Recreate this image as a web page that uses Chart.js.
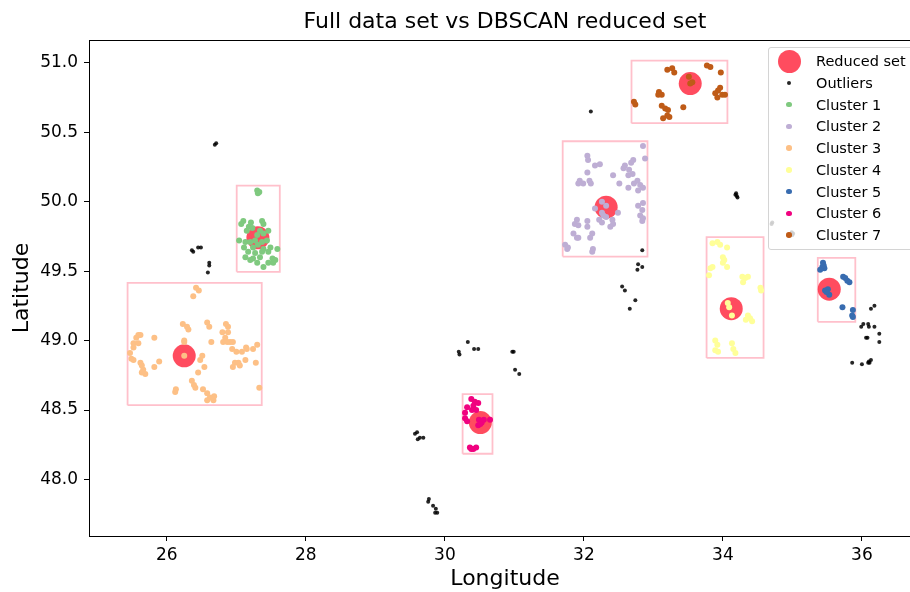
<!DOCTYPE html>
<html lang="en">
<head>
<meta charset="UTF-8">
<title>Full data set vs DBSCAN reduced set</title>
<script src="https://cdn.jsdelivr.net/npm/chart.js@4"></script>
<style>
    body { margin: 0; background: #fff; overflow: hidden; }
    .wrap { position: relative; width: 910px; height: 592px; overflow: hidden; }
    #legend {
        position: absolute; left: 768px; top: 47px; width: 150px; height: 201px;
        border: 1px solid #d4d4d4; border-radius: 3px; background: rgba(255,255,255,0.8);
        font-family: 'DejaVu Sans'; font-size: 14.5px; color: #000;
    }
    .mark { position: absolute; border-radius: 50%; }
    .label { position: absolute; left: 47px; height: 22px; line-height: 22px; white-space: nowrap; }
</style>
</head>
<body>
<div class="wrap">
    <!-- the figure is a little wider than the window: its right spine falls just outside -->
    <canvas id="scatter" width="925" height="592"></canvas>
    <div id="legend"></div>
</div>
<script>
// axis ticks
const xTicks = [26, 28, 30, 32, 34, 36];
const yTicks = [48.0, 48.5, 49.0, 49.5, 50.0, 50.5, 51.0];

// reduced set (one representative per cluster)
const reducedLon = [27.31, 32.32, 26.25, 34.12, 35.53, 30.51, 33.53];
const reducedLat = [49.74, 49.96, 48.89, 49.23, 49.37, 48.41, 50.85];

// DBSCAN noise points
const outLon = [26.69, 26.71, 26.36, 26.38, 26.45, 26.49, 26.61, 26.61, 26.59,
    30.20, 30.21, 30.33, 30.42, 30.48, 30.97, 30.99, 31.01, 31.07,
    29.57, 29.60, 29.64, 29.69, 29.61, 29.76, 29.77, 29.83, 29.87, 29.89, 29.86,
    32.10, 32.84, 32.78, 32.84, 32.77, 32.55, 32.59, 32.74, 32.66,
    34.18, 34.20, 34.19, 34.21, 34.71, 34.70, 35.00, 35.01, 34.99,
    36.13, 36.18, 35.99, 36.02, 36.09, 36.10, 36.18, 36.06, 36.08, 36.25, 36.25,
    35.86, 36.00, 36.09, 36.10, 36.13, 36.11];
const outLat = [50.41, 50.42, 49.65, 49.64, 49.67, 49.67, 49.56, 49.54, 49.49,
    48.92, 48.90, 48.99, 48.94, 48.94, 48.92, 48.92, 48.79, 48.76,
    48.33, 48.34, 48.30, 48.30, 48.29, 47.84, 47.86, 47.81, 47.79, 47.76, 47.76,
    50.65, 49.65, 49.55, 49.53, 49.51, 49.39, 49.36, 49.29, 49.23,
    50.05, 50.04, 50.06, 50.03, 49.85, 49.84, 49.76, 49.77, 49.78,
    49.23, 49.25, 49.10, 49.12, 49.12, 49.10, 49.10, 49.02, 49.02, 49.05, 48.99,
    48.84, 48.83, 48.84, 48.85, 48.86, 48.84];

const c1Lon = [27.30, 27.33, 27.31, 27.10, 27.07, 27.21, 27.37, 27.39, 27.18, 27.15, 27.23, 27.46, 27.34,
    27.30, 27.39, 27.13, 27.20, 27.27, 27.37, 27.44, 27.11, 27.24, 27.31, 27.39, 27.49, 27.59, 27.17,
    27.27, 27.37, 27.46, 27.13, 27.24, 27.34, 27.52, 27.56, 27.30, 27.39, 27.46, 27.53, 27.20, 27.04];
const c1Lat = [50.08, 50.07, 50.06, 49.86, 49.84, 49.85, 49.86, 49.84, 49.82, 49.79, 49.81, 49.79, 49.79,
    49.76, 49.77, 49.71, 49.71, 49.72, 49.71, 49.72, 49.67, 49.67, 49.69, 49.66, 49.67, 49.66, 49.64,
    49.63, 49.64, 49.64, 49.60, 49.59, 49.60, 49.59, 49.58, 49.56, 49.53, 49.56, 49.56, 49.58, 49.72];

const c2Lon = [32.85, 32.05, 32.06, 32.16, 32.23, 32.71, 32.68, 32.59, 32.88, 32.65, 32.57, 32.70, 32.05,
    32.42, 32.64, 31.94, 31.99, 32.08, 32.10, 31.92, 32.51, 32.77, 32.72, 32.81, 32.85, 32.64, 32.78,
    32.78, 32.85, 32.84, 32.81, 32.85, 32.84, 32.26, 32.32, 32.16, 32.26, 32.28, 32.22, 32.32, 32.26,
    32.49, 32.41, 32.42, 32.38, 31.90, 31.87, 31.92, 32.05, 32.05, 31.85, 31.90, 31.92, 32.12, 32.09,
    31.73, 31.76, 31.77, 32.13, 32.12];
const c2Lat = [50.40, 50.33, 50.30, 50.26, 50.27, 50.30, 50.28, 50.26, 50.31, 50.23, 50.24, 50.20, 50.21,
    50.19, 50.19, 50.15, 50.13, 50.15, 50.13, 50.13, 50.13, 50.15, 50.13, 50.12, 50.10, 50.10, 50.08,
    49.97, 49.99, 49.94, 49.90, 49.88, 49.86, 50.00, 49.97, 49.95, 49.92, 49.90, 49.87, 49.89, 49.85,
    49.92, 49.87, 49.84, 49.82, 49.87, 49.84, 49.83, 49.86, 49.82, 49.77, 49.74, 49.74, 49.77, 49.74,
    49.69, 49.66, 49.67, 49.66, 49.64];

const c3Lon = [26.42, 26.46, 26.38, 26.58, 26.61, 26.23, 26.29, 26.31, 26.85, 26.88, 26.80, 26.88,
    25.59, 25.56, 25.62, 25.52, 25.59, 25.52, 25.82, 26.25, 26.25, 26.64, 26.84, 26.81, 26.87, 26.91, 26.95,
    26.94, 27.00, 27.08, 27.14, 27.15, 27.24, 27.30, 25.47, 25.49, 25.52, 26.25, 26.51, 26.48,
    25.62, 25.64, 25.89, 27.03, 26.98, 27.05, 27.13, 27.28, 25.66, 25.69, 25.64, 25.82, 26.54, 26.95, 26.45,
    26.36, 26.39, 26.41, 26.13, 26.12, 26.52, 26.58, 26.62, 26.68, 26.67, 26.58, 27.33];
const c3Lat = [49.38, 49.36, 49.32, 49.13, 49.10, 49.12, 49.10, 49.08, 49.12, 49.10, 49.06, 49.06,
    49.04, 49.02, 49.04, 48.98, 48.98, 48.95, 49.02, 49.00, 48.99, 48.99, 49.02, 48.99, 48.99, 48.99, 48.99,
    48.94, 48.92, 48.92, 48.95, 48.94, 48.94, 48.97, 48.91, 48.87, 48.86, 48.89, 48.89, 48.86,
    48.84, 48.82, 48.85, 48.84, 48.84, 48.82, 48.86, 48.84, 48.79, 48.76, 48.77, 48.81, 48.81, 48.81, 48.77,
    48.71, 48.68, 48.66, 48.65, 48.63, 48.65, 48.62, 48.59, 48.60, 48.57, 48.57, 48.66];

const c4Lon = [33.85, 33.92, 33.96, 34.06, 34.00, 34.02, 34.00, 33.85, 33.82, 34.06, 33.80,
    34.28, 34.32, 34.29, 34.36, 34.54, 34.55, 34.07, 34.09, 34.13, 34.36, 34.39, 34.33, 34.42,
    33.89, 33.92, 33.89, 33.93, 34.13, 34.15, 34.18];
const c4Lat = [49.70, 49.71, 49.69, 49.67, 49.60, 49.58, 49.56, 49.53, 49.52, 49.53, 49.47,
    49.46, 49.45, 49.42, 49.46, 49.38, 49.36, 49.27, 49.24, 49.18, 49.18, 49.16, 49.15, 49.14,
    49.00, 48.97, 48.93, 48.92, 48.98, 48.94, 48.91];

const c5Lon = [35.44, 35.43, 35.46, 35.40, 35.45, 35.73, 35.76, 35.79, 35.82,
    35.47, 35.51, 35.53, 35.49, 35.72, 35.87, 35.86, 35.87];
const c5Lat = [49.56, 49.53, 49.52, 49.51, 49.54, 49.46, 49.45, 49.43, 49.42,
    49.36, 49.37, 49.33, 49.35, 49.24, 49.22, 49.18, 49.17];

const c6Lon = [30.38, 30.43, 30.48, 30.41, 30.32, 30.39, 30.45, 30.29, 30.29, 30.32,
    30.49, 30.53, 30.56, 30.48, 30.65, 30.51, 30.36, 30.41, 30.45, 30.38];
const c6Lat = [48.58, 48.56, 48.55, 48.53, 48.52, 48.50, 48.50, 48.48, 48.44, 48.42,
    48.43, 48.41, 48.43, 48.39, 48.43, 48.40, 48.23, 48.22, 48.23, 48.22];

const c7Lon = [33.20, 33.27, 33.30, 33.77, 33.82, 33.97, 33.51, 33.56, 33.53, 33.08, 33.12, 33.07,
    33.93, 33.96, 33.89, 33.99, 34.03, 33.92, 32.72, 32.74, 33.12, 33.17, 33.21, 33.20, 33.14, 33.23, 33.43];
const c7Lat = [50.95, 50.96, 50.93, 50.98, 50.97, 50.93, 50.90, 50.86, 50.85, 50.79, 50.77, 50.77,
    50.80, 50.82, 50.78, 50.77, 50.77, 50.75, 50.72, 50.70, 50.69, 50.67, 50.66, 50.62, 50.60, 50.61, 50.68];

const clusterNames = ["Cluster 1", "Cluster 2", "Cluster 3", "Cluster 4", "Cluster 5", "Cluster 6", "Cluster 7"];
const clusterLon = [c1Lon, c2Lon, c3Lon, c4Lon, c5Lon, c6Lon, c7Lon];
const clusterLat = [c1Lat, c2Lat, c3Lat, c4Lat, c5Lat, c6Lat, c7Lat];
// matplotlib "Accent" colours
const clusterColors = ["#7fc97f", "#beaed4", "#fdc086", "#ffff99", "#386cb0", "#f0027f", "#bf5b17"];

const titleText = "Full data set vs DBSCAN reduced set";
const reducedColor = "rgba(255, 25, 50, 0.78)";
const outlierColor = "rgba(0, 0, 0, 0.85)";
const boxColor = "#ffc0cb";

function toPoints(lon, lat) {
    return lon.map((v, i) => ({ x: v, y: lat[i] }));
}

// bounding box round a cluster, slightly padded
function boxAround(lon, lat) {
    const pad = 0.035;
    const x0 = Math.min(...lon) - pad, x1 = Math.max(...lon) + pad;
    const y0 = Math.min(...lat) - pad, y1 = Math.max(...lat) + pad;
    return [{ x: x0, y: y0 }, { x: x1, y: y0 }, { x: x1, y: y1 }, { x: x0, y: y1 }, { x: x0, y: y0 }];
}

const datasets = [];

clusterNames.forEach((name, i) => {
    datasets.push({
        label: name + " box",
        type: "line",
        data: boxAround(clusterLon[i], clusterLat[i]),
        borderColor: boxColor,
        borderWidth: 1.8,
        pointRadius: 0,
        fill: false,
        tension: 0,
        order: 10
    });
});

datasets.push({
    label: "Reduced set",
    data: toPoints(reducedLon, reducedLat),
    backgroundColor: reducedColor,
    borderWidth: 0,
    pointRadius: 11.5,
    order: 5
});

datasets.push({
    label: "Outliers",
    data: toPoints(outLon, outLat),
    backgroundColor: outlierColor,
    borderWidth: 0,
    pointRadius: 2,
    order: 1
});

clusterNames.forEach((name, i) => {
    datasets.push({
        label: name,
        data: toPoints(clusterLon[i], clusterLat[i]),
        backgroundColor: clusterColors[i],
        borderWidth: 0,
        pointRadius: 3,
        order: 1
    });
});

// full frame and a title centred over the axes
const frame = {
    id: "frame",
    afterDatasetsDraw(chart) {
        const a = chart.chartArea;
        const c = chart.ctx;
        c.save();
        c.strokeStyle = "#000";
        c.lineWidth = 1;
        c.strokeRect(Math.round(a.left) + 0.5, Math.round(a.top) + 0.5,
            Math.round(a.right - a.left), Math.round(a.bottom - a.top));
        c.fillStyle = "#000";
        c.font = "22px 'DejaVu Sans'";
        c.textAlign = "center";
        c.textBaseline = "middle";
        c.fillText(titleText, (a.left + a.right) / 2, 22);
        c.restore();
    }
};

Chart.defaults.font.family = "'DejaVu Sans'";
Chart.defaults.color = "#000";

new Chart(document.getElementById("scatter"), {
    type: "scatter",
    data: { datasets: datasets },
    options: {
        responsive: false,
        animation: false,
        events: [],
        layout: { autoPadding: false, padding: { left: 0, right: 4, top: 40, bottom: 0 } },
        plugins: {
            legend: { display: false },
            tooltip: { enabled: false },
            title: { display: false }
        },
        scales: {
            x: {
                type: "linear",
                min: 24.88,
                max: 36.85,
                afterBuildTicks: s => { s.ticks = xTicks.map(v => ({ value: v })); },
                afterFit: s => { s.height = 56; s.paddingLeft = 0; s.paddingRight = 0; },
                ticks: { font: { size: 17 }, color: "#000", padding: 4, callback: v => String(v) },
                grid: { drawOnChartArea: false, drawTicks: true, tickLength: 5, color: "#000" },
                border: { display: true, color: "#000", width: 1 },
                title: { display: true, text: "Longitude", font: { size: 22 }, color: "#000", padding: { top: 0, bottom: 0 } }
            },
            y: {
                type: "linear",
                min: 47.593,
                max: 51.164,
                afterBuildTicks: s => { s.ticks = yTicks.map(v => ({ value: v })); },
                afterFit: s => { s.width = 89; s.paddingTop = 0; s.paddingBottom = 0; },
                ticks: { font: { size: 17 }, color: "#000", padding: 6, callback: v => v.toFixed(1) },
                grid: { drawOnChartArea: false, drawTicks: true, tickLength: 5, color: "#000" },
                border: { display: true, color: "#000", width: 1 },
                title: { display: true, text: "Latitude", font: { size: 22 }, color: "#000", padding: { top: 9, bottom: 0 } }
            }
        }
    },
    plugins: [frame]
});

// legend drawn as html on top of the plot
const legend = document.getElementById("legend");
const legendNames = ["Reduced set", "Outliers"].concat(clusterNames);
const legendColors = [reducedColor, outlierColor].concat(clusterColors);
legendNames.forEach((name, i) => {
    const cy = 13 + i * 21.75;
    const size = i === 0 ? 23 : (i === 1 ? 4 : 5.5);
    const mark = document.createElement("div");
    mark.className = "mark";
    mark.style.width = size + "px";
    mark.style.height = size + "px";
    mark.style.left = (20 - size / 2) + "px";
    mark.style.top = (cy - size / 2) + "px";
    mark.style.background = legendColors[i];
    legend.appendChild(mark);
    const label = document.createElement("div");
    label.className = "label";
    label.style.top = (cy - 11) + "px";
    label.textContent = name;
    legend.appendChild(label);
});
</script>
</body>
</html>
